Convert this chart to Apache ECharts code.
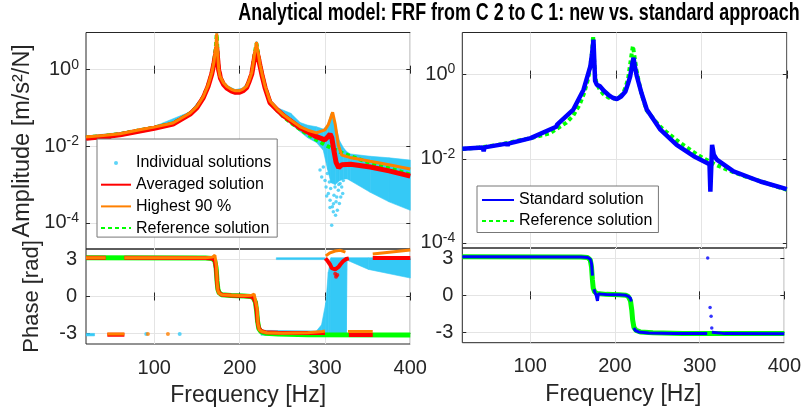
<!DOCTYPE html>
<html>
<head>
<meta charset="utf-8">
<script src="https://cdn.jsdelivr.net/npm/echarts@6/dist/echarts.min.js"></script>
<style>
  html, body { margin: 0; padding: 0; background: #fff; }
  #chart { width: 804px; height: 412px; }
</style>
</head>
<body>
<div id="chart"></div>
<script>
// ---- values: amplitude as log10(m/s^2/N), phase in rad ----
var freqTicks = [100, 200, 300, 400];
var ampTicks = [-4, -2, 0];
var phaseTicks = [-3, 0, 3];

// reference solution (green, same in both panels)
var refFreq = [20, 40, 60, 83, 100, 122, 142, 150, 157.5, 163, 167.3, 170, 172, 173.2, 174.2, 175.5, 177, 181, 185, 190.7, 195, 200, 204, 208.3, 211, 214.2, 218, 219.8, 221.5, 223.9, 226.5, 229.8, 235.6, 245, 252, 260, 271, 280, 290, 300, 310, 320, 330, 350, 375, 400];
var refAmp = [-1.77, -1.73, -1.68, -1.58, -1.51, -1.40, -1.14, -0.97, -0.71, -0.42, -0.10, 0.20, 0.55, 0.92, 0.40, 0.00, -0.19, -0.36, -0.46, -0.54, -0.57, -0.57, -0.53, -0.45, -0.31, -0.10, 0.45, 0.68, 0.45, 0.12, -0.15, -0.45, -0.84, -1.08, -1.24, -1.38, -1.56, -1.69, -1.83, -1.96, -2.07, -2.17, -2.26, -2.41, -2.57, -2.74];

// averaged solution (red)
var avgFreq = [20, 40, 45, 46.5, 48, 60, 83, 100, 122, 142, 150, 157.5, 163, 167.3, 170, 172, 173.2, 174.2, 175.5, 176.5, 177.5, 181, 185, 190.7, 195, 200, 204, 208.3, 211, 214.2, 218, 219.8, 221.5, 223.9, 226.5, 229.8, 235.6, 245, 252, 260, 271, 280, 290, 300, 304, 306, 308, 310, 313, 316, 320, 330, 353, 375, 400];
var avgAmp = [-1.79, -1.75, -1.74, -1.80, -1.73, -1.70, -1.60, -1.53, -1.42, -1.16, -0.99, -0.73, -0.44, -0.12, 0.17, 0.42, 0.58, 0.30, -0.02, -0.10, -0.22, -0.38, -0.48, -0.56, -0.59, -0.59, -0.55, -0.47, -0.32, -0.12, 0.38, 0.50, 0.36, 0.10, -0.17, -0.47, -0.86, -1.07, -1.21, -1.34, -1.52, -1.63, -1.75, -1.83, -1.74, -1.68, -1.78, -2.05, -2.42, -2.56, -2.48, -2.47, -2.54, -2.64, -2.78];

// highest 90 % (orange)
var highFreq = [20, 40, 60, 83, 100, 122, 142, 150, 157.5, 163, 167.3, 170, 172, 173.2, 174.2, 175.5, 177, 181, 185, 190.7, 195, 200, 204, 208.3, 211, 214.2, 218, 219.8, 221.5, 223.9, 226.5, 229.8, 235.6, 245, 252, 260, 271, 280, 290, 300, 304, 309, 312, 315.7, 319.6, 329, 353, 375, 400];
var highAmp = [-1.76, -1.72, -1.67, -1.57, -1.50, -1.39, -1.13, -0.96, -0.70, -0.41, -0.09, 0.21, 0.58, 0.95, 0.42, 0.02, -0.17, -0.34, -0.44, -0.52, -0.55, -0.55, -0.51, -0.43, -0.29, -0.08, 0.48, 0.72, 0.47, 0.14, -0.13, -0.43, -0.82, -1.05, -1.19, -1.32, -1.49, -1.58, -1.65, -1.57, -1.43, -1.11, -1.42, -1.97, -2.23, -2.29, -2.39, -2.48, -2.59];

// individual solutions (cyan cloud): lower / upper edge, plus loose dots
var indFreq = [20, 60, 100, 142, 157.5, 167.3, 170, 172, 173.2, 174.2, 175.5, 177, 181, 185, 195, 204, 211, 214.2, 218, 219.8, 221.5, 223.9, 229.8, 235.6, 245, 260, 271, 280, 290, 298, 303, 307, 312, 317, 322, 326, 330, 353, 375, 400];
var indLow = [-1.84, -1.74, -1.57, -1.19, -0.76, -0.15, 0.12, 0.35, 0.50, 0.25, -0.07, -0.25, -0.42, -0.53, -0.64, -0.60, -0.37, -0.16, 0.30, 0.42, 0.30, 0.05, -0.51, -0.91, -1.14, -1.42, -1.62, -1.78, -1.90, -2.10, -2.60, -2.95, -3.00, -2.90, -2.85, -2.85, -2.90, -3.20, -3.45, -3.67];
var indHigh = [-1.73, -1.64, -1.48, -1.10, -0.67, -0.06, 0.24, 0.60, 0.96, 0.44, 0.04, -0.15, -0.32, -0.41, -0.52, -0.48, -0.26, -0.06, 0.50, 0.74, 0.49, 0.16, -0.40, -0.78, -1.00, -1.14, -1.38, -1.45, -1.49, -1.55, -1.45, -1.15, -1.40, -1.85, -2.05, -2.15, -2.20, -2.26, -2.30, -2.36];
var indDotFreq = [294.2, 296.2, 298.1, 300.1, 301.3, 302.8, 304.0, 305.2, 306.0, 306.7, 307.9, 308.7, 309.8, 310.6, 311.8, 313.0, 313.8, 314.5, 315.7, 316.9, 317.7, 318.5, 319.6, 320.8, 321.5, 302.0, 305.9, 310.0, 312.4, 316.2];
var indDotAmp = [-2.62, -2.80, -2.54, -2.89, -3.06, -2.71, -3.23, -2.93, -3.41, -3.10, -4.06, -3.58, -3.71, -3.28, -3.06, -3.45, -3.32, -3.67, -3.15, -3.49, -2.97, -3.32, -3.06, -3.23, -2.89, -3.30, -3.60, -3.50, -3.80, -3.00];

// standard solution (blue, right panel)
var stdFreq = [20, 44, 45, 46, 72, 73, 74, 100, 130, 131, 132, 150, 162, 170, 172, 173.6, 175.5, 177.5, 181.4, 186, 191, 196, 201, 206, 211, 214, 216.6, 219, 220.5, 222, 224.4, 230, 236, 252, 271, 291, 306.6, 309.5, 310.5, 312.5, 314.5, 318, 337.6, 369, 400];
var stdAmp = [-1.76, -1.73, -1.82, -1.73, -1.64, -1.69, -1.64, -1.51, -1.24, -1.19, -1.22, -0.83, -0.36, 0.20, 0.50, 0.83, -0.15, -0.24, -0.28, -0.39, -0.48, -0.55, -0.58, -0.52, -0.40, -0.22, -0.04, 0.25, 0.40, 0.20, -0.04, -0.45, -0.83, -1.31, -1.67, -1.94, -2.10, -2.14, -2.78, -1.67, -1.90, -2.02, -2.30, -2.54, -2.72];

// phase, null = break in the trace
var phRefFreq = [20, 160, 168, 171, 172.5, 173.5, 174.5, 176, 179, 190, 205, 213, 216, 218.5, 220, 221, 222.5, 225, 230, 245, 280, 400];
var phRef = [3.14, 3.13, 3.08, 2.9, 2.3, 1.3, 0.6, 0.3, 0.15, 0.08, 0.04, 0.0, -0.1, -0.45, -1.2, -2.0, -2.6, -2.85, -2.98, -3.05, -3.1, -3.12];

var phAvgFreq = [20, 43, 43, 45, 65, 65, 65, 160, 168, 171, 172.5, 173.5, 174.5, 176, 179, 190, 205, 213, 216, 218.5, 220, 221, 222.5, 225, 230, 245, 280, 300, 300, 300.5, 303, 306, 308, 310, 312, 314, 316, 318, 321, 325, 328, 328, 328, 356, 356, 356, 400];
var phAvg = [3.14, 3.14, null, -3.1, -3.1, null, 3.14, 3.13, 3.08, 2.9, 2.2, 1.2, 0.6, 0.3, 0.15, 0.08, 0.04, 0.0, -0.1, -0.45, -1.2, -2.0, -2.55, -2.8, -2.9, -2.95, -2.97, -2.97, null, 3.1, 2.9, 2.6, 2.3, 2.2, 2.2, 2.25, 2.4, 2.6, 2.85, 3.05, 3.1, null, -3.12, -3.12, null, 3.12, 3.12];
var avgDotFreq = [312, 313, 314.5];
var avgDotPh = [1.85, 1.6, 1.75];

var phHighFreq = [20, 43, 43, 45, 65, 65, 65, 160, 168, 171, 172, 172.8, 173.5, 174.5, 176, 179, 190, 205, 214, 217, 219, 220.5, 221.5, 223, 226, 232, 250, 280, 297, 300, 300, 301, 306, 312, 318, 324, 324, 327, 356, 356, 356, 400];
var phHigh = [3.14, 3.14, null, -3.05, -3.05, null, 3.14, 3.14, 3.2, 3.35, 3.3, 2.5, 1.3, 0.5, 0.25, 0.15, 0.1, 0.07, 0.1, 0.2, 0.1, -1.0, -2.2, -2.7, -2.85, -2.95, -2.98, -2.95, -2.85, -2.8, null, 3.3, 3.55, 3.7, 3.75, 3.6, null, -2.85, -2.85, null, 3.45, 3.78];
var highDotFreq = [92.5, 116];
var highDotPh = [-3.05, -3.05];

// cyan phase cloud: [freq, low, high]
var indPhaseBands = [
  [[20, -3.2, -3.0], [30, -3.2, -3.0]],
  [[225, -3.15, -2.75], [290, -3.15, -2.8], [296, -3.15, -2.3], [301, -3.15, -0.5], [304, -3.15, 2.0], [307, -3.15, 3.15], [325, -3.15, 3.15], [326, 2.95, 3.15], [351, 2.2, 3.15], [400, 1.5, 3.15]],
  [[243, 3.0, 3.15], [300, 3.0, 3.15]]
];
var indPhDotFreq = [90.6, 129.8];
var indPhDot = [-3.05, -3.05];

var phStdFreq = [20, 160, 168, 171, 172.5, 173.6, 173.6, 175.3, 176.5, 178, 179.5, 180.5, 183, 190, 205, 213, 216, 218.6, 219.3, 219.3, 222.5, 224, 228, 240, 270, 309, 309, 314.5, 316, 330, 400];
var phStd = [3.14, 3.13, 3.08, 2.95, 2.6, 1.6, null, 0.5, 0.25, 0.0, -0.45, 0.1, 0.1, 0.07, 0.04, 0.0, -0.08, -0.25, -0.5, null, -2.66, -2.85, -2.98, -3.07, -3.1, -3.12, null, -3.0, -3.08, -3.12, -3.13];
var stdDotFreq = [309.6, 312.4, 313.6, 314.4];
var stdDotPh = [3.05, -1.0, -1.7, -2.66];

// ---- styling ----
var FONT = '"Liberation Sans", Arial, sans-serif';
var AX = '#262626';
var GRIDC = '#e4e4e4';
var CYAN = '#35c9f6', RED = '#ff0000', ORANGE = '#ff8000', GREEN = '#00ff00', BLUE = '#0000ff';

function pairs(xs, ys) {
  return xs.map(function (x, i) { return [x, ys[i] == null ? '-' : ys[i]]; });
}

var grids = [
  { left: 86, top: 32.5, width: 324.3, height: 216.5 },
  { left: 86, top: 249, width: 324.3, height: 95 },
  { left: 462.3, top: 32.5, width: 324.5, height: 215.5 },
  { left: 462.3, top: 248, width: 324.5, height: 94.7 }
];
grids.forEach(function (g) { g.show = true; g.borderColor = AX; g.borderWidth = 1; g.backgroundColor = 'transparent'; });

var yLim = [[-4.68, 0.97], [-3.86, 3.86], [-4.12, 1.0], [-3.86, 3.86]];

var xAxes = [], yAxes = [];
[0, 1, 2, 3].forEach(function (g) {
  var bottomPanel = (g === 1 || g === 3);
  xAxes.push({
    type: 'value', gridIndex: g, min: 20, max: 400, position: 'bottom',
    axisLine: { show: false },
    axisTick: { show: true, inside: true, length: 4, customValues: freqTicks, lineStyle: { color: AX } },
    axisLabel: { show: bottomPanel, customValues: freqTicks, margin: 14, fontSize: 20, color: AX, fontFamily: FONT },
    splitLine: { show: true, lineStyle: { color: GRIDC } },
    name: bottomPanel ? 'Frequency [Hz]' : '', nameLocation: 'middle', nameGap: 40,
    nameTextStyle: { fontSize: 23, color: AX, fontFamily: FONT }
  });
});
[0, 1, 2, 3].forEach(function (g) {
  xAxes.push({
    type: 'value', gridIndex: g, min: 20, max: 400, position: 'top',
    axisLine: { show: false },
    axisTick: { show: true, inside: true, length: 4, customValues: freqTicks, lineStyle: { color: AX } },
    axisLabel: { show: false }, splitLine: { show: false }
  });
});

function ampLabel(v) { return '{b|10}{s|' + v + '}'; }
[0, 1, 2, 3].forEach(function (g) {
  var isAmp = (g === 0 || g === 2);
  var ticks = isAmp ? ampTicks : phaseTicks;
  var name = '';
  if (g === 0) name = 'Amplitude [m/s²/N]';
  if (g === 1) name = 'Phase [rad]';
  yAxes.push({
    type: 'value', gridIndex: g, min: yLim[g][0], max: yLim[g][1], position: 'left',
    axisLine: { show: false },
    axisTick: { show: true, inside: true, length: 4, customValues: ticks, lineStyle: { color: AX } },
    axisLabel: {
      customValues: ticks, color: AX, fontFamily: FONT, fontSize: 20,
      margin: isAmp ? 7 : 9,
      formatter: isAmp ? ampLabel : function (v) { return String(v); },
      rich: {
        b: { fontSize: 20, fontFamily: FONT, color: AX },
        s: { fontSize: 14, fontFamily: FONT, color: AX, padding: [0, 0, 10, 0] }
      }
    },
    splitLine: { show: true, lineStyle: { color: GRIDC } },
    name: name, nameLocation: 'middle', nameGap: g === 0 ? 51 : 43,
    nameTextStyle: { fontSize: g === 0 ? 23.5 : 22, color: AX, fontFamily: FONT }
  });
});
[0, 1, 2, 3].forEach(function (g) {
  var isAmp = (g === 0 || g === 2);
  yAxes.push({
    type: 'value', gridIndex: g, min: yLim[g][0], max: yLim[g][1], position: 'right',
    axisLine: { show: false },
    axisTick: { show: true, inside: true, length: 4, customValues: isAmp ? ampTicks : phaseTicks, lineStyle: { color: AX } },
    axisLabel: { show: false }, splitLine: { show: false }
  });
});

function bandSeries(rows, g, color) {
  return {
    type: 'custom', xAxisIndex: g, yAxisIndex: g, silent: true, clip: true,
    encode: { x: 0, y: [1, 2] },
    data: rows,
    renderItem: function (params, api) {
      var i = params.dataIndexInside;
      if (i >= params.dataInsideLength - 1) return null;
      var pts = [
        api.coord([api.value(0, i), api.value(1, i)]),
        api.coord([api.value(0, i + 1), api.value(1, i + 1)]),
        api.coord([api.value(0, i + 1), api.value(2, i + 1)]),
        api.coord([api.value(0, i), api.value(2, i)])
      ];
      return { type: 'polygon', shape: { points: pts }, style: { fill: color, stroke: color, lineWidth: 0.6 } };
    }
  };
}
function lineSeries(name, g, xs, ys, color, width, type) {
  return {
    type: 'line', name: name, xAxisIndex: g, yAxisIndex: g, data: pairs(xs, ys),
    symbol: 'none', connectNulls: false, clip: true, silent: true,
    lineStyle: { color: color, width: width, type: type || 'solid', cap: 'butt' },
    itemStyle: { color: color }
  };
}
function dotSeries(name, g, xs, ys, color, size) {
  return {
    type: 'scatter', name: name, xAxisIndex: g, yAxisIndex: g, data: pairs(xs, ys),
    symbol: 'circle', symbolSize: size, silent: true, clip: true, itemStyle: { color: color }
  };
}

var indRows = indFreq.map(function (f, i) { return [f, indLow[i], indHigh[i]]; });

var series = [
  // left amplitude
  bandSeries(indRows, 0, CYAN),
  dotSeries('Individual solutions', 0, indDotFreq, indDotAmp, CYAN, 3.5),
  lineSeries('Reference solution', 0, refFreq, refAmp, GREEN, 4, [4, 3]),
  lineSeries('Averaged solution', 0, avgFreq, avgAmp, RED, 5),
  lineSeries('Highest 90 %', 0, highFreq, highAmp, ORANGE, 3),
  // left phase
  dotSeries('Individual solutions', 1, indPhDotFreq, indPhDot, CYAN, 4),
  lineSeries('Reference solution', 1, phRefFreq, phRef, GREEN, 5),
  lineSeries('Averaged solution', 1, phAvgFreq, phAvg, RED, 4),
  dotSeries('Averaged solution', 1, avgDotFreq, avgDotPh, RED, 4),
  lineSeries('Highest 90 %', 1, phHighFreq, phHigh, ORANGE, 3),
  dotSeries('Highest 90 %', 1, highDotFreq, highDotPh, ORANGE, 4),
  // right amplitude
  lineSeries('Reference solution', 2, refFreq, refAmp, GREEN, 4, [4, 3]),
  lineSeries('Standard solution', 2, stdFreq, stdAmp, BLUE, 4.5),
  // right phase
  lineSeries('Reference solution', 3, phRefFreq, phRef, GREEN, 5),
  lineSeries('Standard solution', 3, phStdFreq, phStd, BLUE, 3),
  dotSeries('Standard solution', 3, stdDotFreq, stdDotPh, BLUE, 3.5)
];
indPhaseBands.forEach(function (rows) { series.splice(5, 0, bandSeries(rows, 1, CYAN)); });

// line entries: hide the marker ECharts puts in the middle of the legend line
function lineItem(name) { return { name: name, itemStyle: { opacity: 0 } }; }

var legendBase = {
  orient: 'vertical', itemWidth: 30, itemHeight: 4, itemGap: 4.7,
  backgroundColor: '#fff', borderColor: '#777', borderWidth: 1, borderRadius: 0,
  textStyle: { fontSize: 16, color: '#000', fontFamily: FONT, lineHeight: 17 },
  selectedMode: false
};

var option = {
  animation: false,
  backgroundColor: '#fff',
  textStyle: { fontFamily: FONT },
  graphic: [{
    type: 'text', x: 519, y: 1, scaleX: 0.745, silent: true,
    style: {
      text: 'Analytical model: FRF from C 2 to C 1: new vs. standard approach',
      font: 'bold 24px "Liberation Sans", Arial, sans-serif', fill: '#000',
      textAlign: 'center', textVerticalAlign: 'top'
    }
  }],
  grid: grids,
  xAxis: xAxes,
  yAxis: yAxes,
  legend: [
    Object.assign({}, legendBase, {
      left: 97, top: 139, padding: [15.5, 6, 0.5, 3],
      data: ['Individual solutions', lineItem('Averaged solution'), lineItem('Highest 90 %'), lineItem('Reference solution')]
    }),
    Object.assign({}, legendBase, {
      left: 477, top: 186, padding: [5.5, 6, 3, 4], itemWidth: 32, itemGap: 4,
      data: [lineItem('Standard solution'), lineItem('Reference solution')]
    })
  ],
  series: series
};

var chart = echarts.init(document.getElementById('chart'), null, { renderer: 'canvas' });
chart.setOption(option);
</script>
</body>
</html>
